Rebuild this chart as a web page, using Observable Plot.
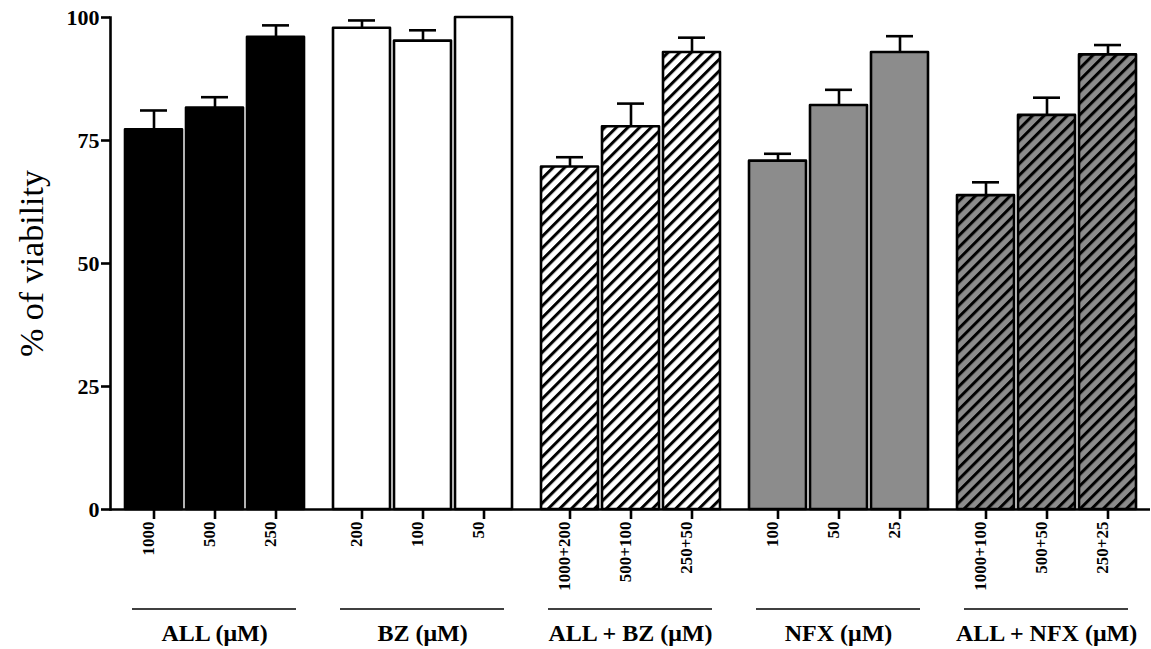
<!DOCTYPE html>
<html>
<head>
<meta charset="utf-8">
<script src="https://cdn.jsdelivr.net/npm/d3@7"></script>
<script src="https://cdn.jsdelivr.net/npm/@observablehq/plot@0.6"></script>
<style>
  html, body { margin: 0; padding: 0; background: #fff; }
  svg text { font-family: 'Liberation Serif', 'Times New Roman', serif; }
</style>
</head>
<body>
<div id="chart"></div>
<script>
// ---- data ----
const groups = ["ALL (μM)", "BZ (μM)", "ALL + BZ (μM)", "NFX (μM)", "ALL + NFX (μM)"];
const doseLabels = [
  ["1000", "500", "250"],
  ["200", "100", "50"],
  ["1000+200", "500+100", "250+50"],
  ["100", "50", "25"],
  ["1000+100", "500+50", "250+25"]
];
const viability = [
  [77.2, 81.6, 96.0],
  [97.8, 95.2, 100.0],
  [69.6, 77.8, 92.9],
  [70.8, 82.1, 92.9],
  [63.8, 80.1, 92.4]
];
const sem = [
  [3.9, 2.2, 2.4],
  [1.6, 2.2, 1.5],
  [2.0, 4.7, 3.0],
  [1.5, 3.2, 3.3],
  [2.7, 3.6, 2.0]
];
const yTicks = [0, 25, 50, 75, 100];
const yLabel = "% of viability";
const groupFills = ["black", "white", "url(#hatch-white)", "#8c8c8c", "url(#hatch-gray)"];

const rows = groups.flatMap((g, i) => doseLabels[i].map((d, j) => ({
  group: g, slot: j, dose: d, value: viability[i][j], err: sem[i][j], fill: groupFills[i]
})));

const SW = 2.6;
const serif = "'Liberation Serif', 'Times New Roman', serif";

const chart = Plot.plot({
  width: 1151,
  height: 649,
  marginLeft: 109,
  marginRight: 0,
  marginTop: 17,
  marginBottom: 140,
  style: {background: "white", fontFamily: serif, overflow: "visible", color: "black"},
  fx: {domain: groups, paddingInner: 0, paddingOuter: 0, label: null},
  x: {domain: [0, 1, 2], paddingInner: 0.068, paddingOuter: 0.223, label: null},
  y: {domain: [0, 100], label: null},
  color: {type: "identity"},
  marks: [
    Plot.barY(rows, {fx: "group", x: "slot", y: "value", fill: "fill", stroke: "black", strokeWidth: SW, strokeLinejoin: "round"}),
    Plot.ruleX(rows, {fx: "group", x: "slot", y1: "value", y2: d => d.value + d.err, stroke: "black", strokeWidth: SW, clip: true}),
    Plot.tickY(rows, {fx: "group", x: "slot", y: d => d.value + d.err, insetLeft: 15, insetRight: 15, stroke: "black", strokeWidth: SW, clip: true}),
    Plot.ruleY([0], {stroke: "black", strokeWidth: SW}),
    Plot.frame({anchor: "left", facetAnchor: "left", stroke: "black", strokeWidth: SW}),
    Plot.axisY({ticks: yTicks, tickSize: 9, tickPadding: 2, fontSize: 22, fontWeight: "bold", fontFamily: serif, strokeWidth: SW, label: null, fill: "black"}),
    Plot.axisX({tickSize: 10, tickFormat: () => "", strokeWidth: SW, label: null}),
    Plot.text(rows, {fx: "group", x: "slot", text: "dose", frameAnchor: "bottom", rotate: -90, textAnchor: "end", dy: 12, fontSize: 17, fontWeight: "bold", fontFamily: serif, fill: "black"}),
    Plot.ruleY(groups, {fx: d => d, y: () => 0, dy: 99.4, insetLeft: 22, insetRight: 22, stroke: "black", strokeWidth: 1.5}),
    Plot.axisFx({anchor: "bottom", tickSize: 0, tickPadding: 114, fontSize: 24, fontWeight: "bold", fontFamily: serif, label: null, fill: "black"}),
    Plot.text([yLabel], {fx: () => groups[0], text: d => d, frameAnchor: "left", textAnchor: "middle", rotate: -90, dx: -78, fontSize: 34, fontFamily: serif, fill: "black"})
  ]
});

// hatch pattern definitions used by the combination groups
const defs = d3.select(chart).insert("defs", ":first-child");
[["hatch-white", "white"], ["hatch-gray", "#8c8c8c"]].forEach(([id, bg]) => {
  const p = defs.append("pattern")
    .attr("id", id)
    .attr("patternUnits", "userSpaceOnUse")
    .attr("width", 8.2).attr("height", 8.2)
    .attr("patternTransform", "rotate(45)");
  p.append("rect").attr("width", 8.2).attr("height", 8.2).attr("fill", bg);
  p.append("rect").attr("width", 3).attr("height", 8.2).attr("fill", "black");
});

document.getElementById("chart").appendChild(chart);
</script>
</body>
</html>
